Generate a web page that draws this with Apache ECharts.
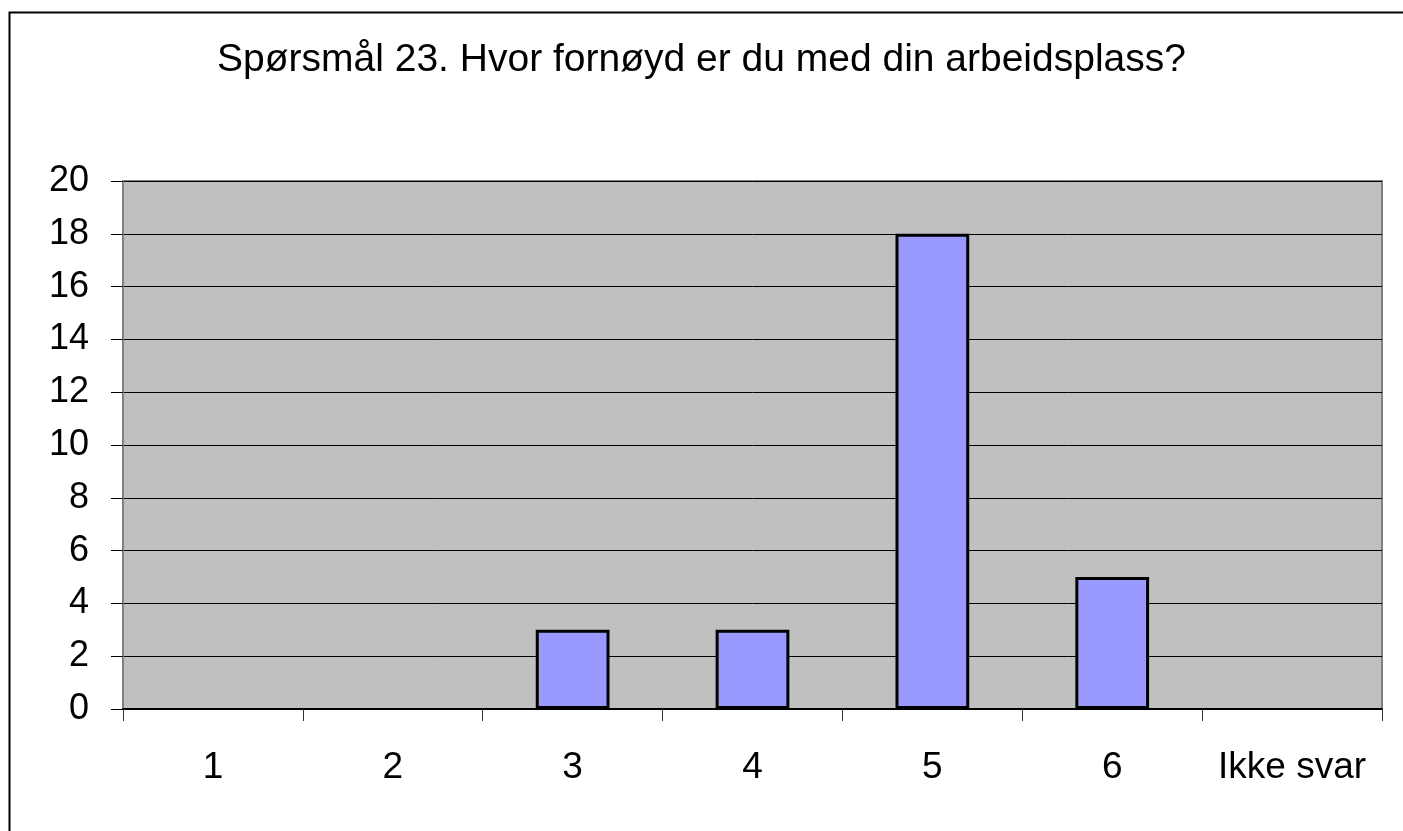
<!DOCTYPE html>
<html>
<head>
<meta charset="utf-8">
<script src="https://cdn.jsdelivr.net/npm/echarts@6/dist/echarts.min.js"></script>
<style>
  html, body { margin: 0; padding: 0; background: #fff; }
  #chart { width: 1403px; height: 831px; }
</style>
</head>
<body>
<div id="chart"></div>
<script>
// Survey answers: how satisfied are you with your workplace (scale 1-6)
const titleText = 'Spørsmål 23. Hvor fornøyd er du med din arbeidsplass?';
const categories = ['1', '2', '3', '4', '5', '6', 'Ikke svar'];
const counts = [0, 0, 3, 3, 18, 5, 0];
const yMin = 0;
const yMax = 20;
const yStep = 2;

const font = '"Liberation Sans", Arial, Helvetica, sans-serif';

// Empty answers get no outline so no flat stroke shows on the axis
const barData = counts.map(v => (v === 0
  ? { value: v, itemStyle: { borderWidth: 0 } }
  : v));

const chart = echarts.init(document.getElementById('chart'), null, { renderer: 'canvas' });

chart.setOption({
  animation: false,
  backgroundColor: '#ffffff',
  title: {
    text: titleText,
    left: 'center',
    top: 36,
    textStyle: { fontFamily: font, fontSize: 39, fontWeight: 'normal', color: '#000' }
  },
  graphic: [{
    type: 'rect',
    left: 7,
    top: 10,
    shape: { width: 1500, height: 900 },
    style: { fill: 'none', stroke: '#000', lineWidth: 2 },
    silent: true,
    z: -1
  }],
  grid: {
    left: 123,
    top: 181,
    right: 21,
    bottom: 122,
    show: true,
    backgroundColor: '#C0C0C0',
    borderColor: '#808080',
    borderWidth: 2
  },
  xAxis: {
    type: 'category',
    data: categories,
    boundaryGap: true,
    axisLine: { show: true, lineStyle: { color: '#000', width: 2 } },
    axisTick: { show: true, alignWithLabel: false, interval: 0, length: 12, lineStyle: { color: '#333', width: 1 } },
    axisLabel: { interval: 0, fontFamily: font, fontSize: 37, color: '#000', margin: 40 },
    splitLine: { show: false }
  },
  yAxis: {
    type: 'value',
    min: yMin,
    max: yMax,
    interval: yStep,
    axisLine: { show: true, lineStyle: { color: '#808080', width: 2 } },
    axisTick: { show: true, length: 12, lineStyle: { color: '#000', width: 1 } },
    axisLabel: { fontFamily: font, fontSize: 36, color: '#000', margin: 34 },
    splitLine: { show: true, lineStyle: { color: '#000', width: 1 } }
  },
  series: [{
    type: 'bar',
    data: barData,
    barWidth: '41%',
    itemStyle: { color: '#9999FF', borderColor: '#000', borderWidth: 3 }
  }]
});
</script>
</body>
</html>
